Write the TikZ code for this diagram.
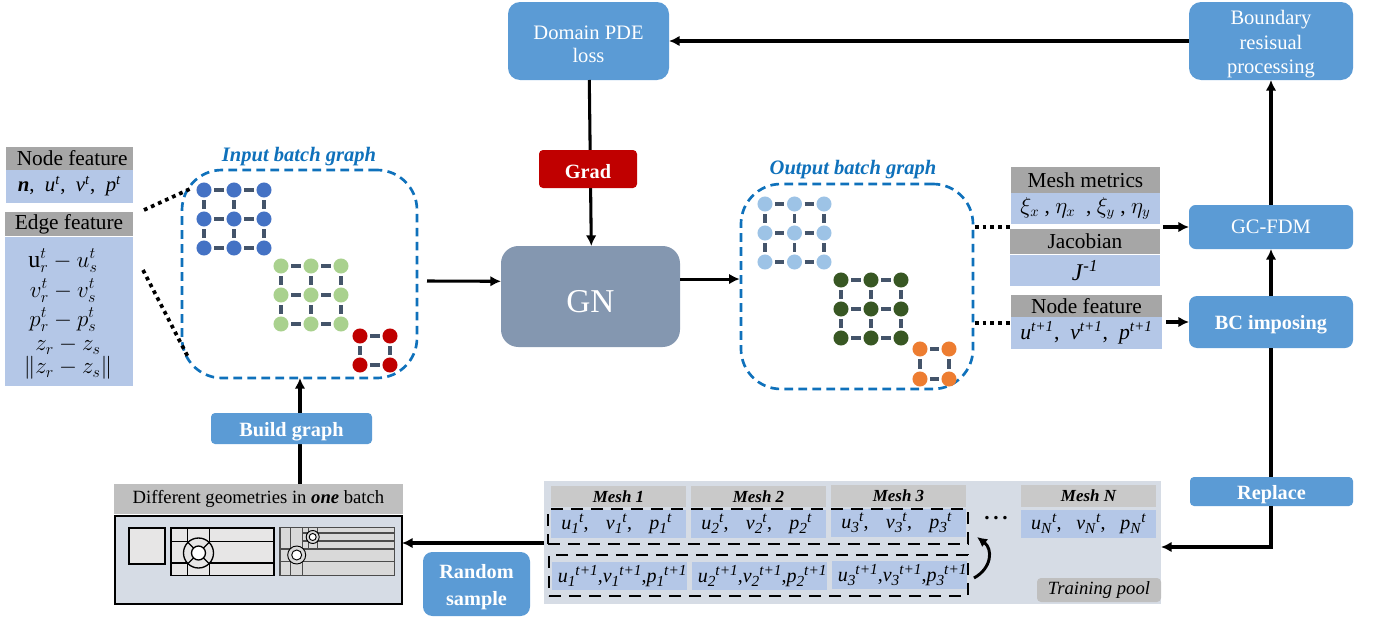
\documentclass[tikz,border=0pt]{standalone}
\usepackage{fontspec}
\usepackage{amsmath}
\setmainfont{Liberation Serif}
\usetikzlibrary{arrows.meta}
\definecolor{bluebox}{HTML}{5B9BD5}
\definecolor{gnfill}{HTML}{8497B0}
\definecolor{redbox}{HTML}{C00000}
\definecolor{graybar}{HTML}{A6A6A6}
\definecolor{lightbar}{HTML}{BFBFBF}
\definecolor{meshbar}{HTML}{C9C9C9}
\definecolor{cellblue}{HTML}{B4C7E7}
\definecolor{panel}{HTML}{D6DCE5}
\definecolor{edgeslate}{HTML}{44546A}
\definecolor{dashblue}{HTML}{0F71BB}
\definecolor{geo}{HTML}{E7E6E6}
\definecolor{geob}{HTML}{D9D9D9}
\definecolor{dotblue}{HTML}{4472C4}
\definecolor{dotgreen}{HTML}{A9D18E}
\definecolor{dotlight}{HTML}{9DC3E6}
\definecolor{dotdark}{HTML}{385723}
\definecolor{dotorange}{HTML}{ED7D31}
\newcommand\fsz[1]{\fontsize{#1}{#1}\selectfont}
\newcommand\dn{\rule{0pt}{14.7pt}}
\newcommand\supit[2]{\textit{#1}\textsuperscript{\textit{#2}}}
\newcommand\subsup[3]{\textit{#1}\raisebox{-3pt}{\fsz{11.5}\textit{#2}}\raisebox{5.5pt}{\fsz{11.5}\textit{#3}}}
\newcommand\Bx[7]{%
  \pgfmathsetmacro\bxw{(#5-#3)*0.75}\pgfmathsetmacro\bxh{(#6-#4)*0.75}%
  \node[#2,minimum width=\bxw pt,minimum height=\bxh pt] (#1) at ({(#3+#5)/2},{(#4+#6)/2}) {#7};}
\newcommand\GThree[6]{%
  \foreach \i in {0,1,2}{\foreach \j in {0,1,2}{
    \node[gdot,fill=#2] (#1-\i-\j) at ({#3+\i*#5},{#4+\j*#6}) {};}}
  \foreach \i in {0,1,2}{\foreach \j/\k in {0/1,1/2}{
    \draw[gedge] (#1-\i-\j) -- (#1-\i-\k);
    \draw[gedge] (#1-\j-\i) -- (#1-\k-\i);}}}
\newcommand\GTwo[6]{%
  \foreach \i in {0,1}{\foreach \j in {0,1}{
    \node[gdot,fill=#2] (#1-\i-\j) at ({#3+\i*#5},{#4+\j*#6}) {};}}
  \foreach \i in {0,1}{
    \draw[gedge] (#1-\i-0) -- (#1-\i-1);
    \draw[gedge] (#1-0-\i) -- (#1-1-\i);}}
\tikzset{
  base/.style={inner sep=0pt,outer sep=0pt,align=center},
  blockbox/.style={base,fill=bluebox,rounded corners=9pt,text=white,font=\fsz{15.4}},
  boldbox/.style={base,fill=bluebox,rounded corners=3pt,text=white,font=\fsz{15.2}\bfseries},
  headbar/.style={base,fill=graybar,text=black,font=\fsz{16}},
  cell/.style={base,fill=cellblue,text=black,font=\fsz{15.6}},
  meshhead/.style={base,fill=meshbar,font=\fsz{12.7}\bfseries\itshape},
  meshcell/.style={base,fill=cellblue,font=\fsz{15}},
  gdot/.style={circle,draw=none,minimum size=11.3pt,inner sep=0pt,outer sep=2pt},
  gedge/.style={draw=edgeslate,line width=2.5pt},
  arr/.style={draw=black,line width=2.3pt,-{Latex[length=8pt,width=8pt]}},
  plainline/.style={draw=black,line width=2.3pt},
  dots/.style={draw=black,line width=2.8pt,dash pattern=on 2.8pt off 3pt},
  bluedash/.style={base,draw=dashblue,line width=2pt,rounded corners=30pt,dash pattern=on 6.5pt off 4pt},
  blackdash/.style={base,draw=black,line width=2.2pt,dash pattern=on 9pt off 6pt},
  title/.style={text=dashblue,font=\fsz{15.4}\bfseries\itshape,inner sep=0pt},
  math/.style={inner sep=0pt,font=\fsz{18}},
  geoA/.style={draw=black,line width=1pt,fill=geo},
  geoL/.style={draw=black,line width=1pt},
  geoB/.style={draw=black!70,line width=.8pt,fill=geob},
  geoM/.style={draw=black!70,line width=.8pt},
}
\begin{document}
\begin{tikzpicture}[x=0.75pt,y=-0.75pt]
\useasboundingbox (0,0) rectangle (1379,621);

% ---- left feature tables
\Bx{nfh}{headbar}{6}{147}{133}{170}{\hspace*{4pt}Node feature}
\Bx{nfc}{cell}{6}{170}{133}{203}{\textit{\textbf{n}}, \ \supit{u}{t}, \ \supit{v}{t}, \ \supit{p}{t}}
\Bx{efh}{headbar}{5}{212}{133}{236}{Edge feature}
\Bx{efc}{cell}{5}{237}{133}{386}{}
\node[math] (e1) at (63,261) {$\mathrm{u}_r^t-u_s^t$};
\node[math] (e2) at (63,291) {$v_r^t-v_s^t$};
\node[math] (e3) at (63,320) {$p_r^t-p_s^t$};
\node[math] (e4) at (68,346) {$z_r-z_s$};
\node[math] (e5) at (68,368) {$\|z_r-z_s\|$};

% ---- input graph
\Bx{ib}{bluedash}{182}{170}{417}{378}{}
\node[title] (ibt) at (299,157) {Input batch graph};
\GThree{a}{dotblue}{204}{190}{30}{29}
\GThree{b}{dotgreen}{281}{266}{30}{29}
\GTwo{c}{redbox}{360}{336}{30}{29}
\coordinate (d1a) at (144,210);
\coordinate (d1b) at (192,188);
\coordinate (d2a) at (143,270);
\coordinate (d2b) at (188,357);
\draw[dots] (d1a) -- (d1b);
\draw[dots] (d2a) -- (d2b);

% ---- output graph
\Bx{ob}{bluedash}{741}{184}{973}{389}{}
\node[title] (obt) at (853,170) {Output batch graph};
\GThree{d}{dotlight}{765}{204}{29.5}{29}
\GThree{e}{dotdark}{841}{280}{30}{29}
\GTwo{f}{dotorange}{920}{349}{29}{30}

% ---- right tables
\Bx{mmh}{headbar}{1011}{167}{1160}{193}{Mesh metrics}
\Bx{mmc}{cell}{1011}{193}{1160}{224}{\fsz{16}$\xi_x$ , $\eta_x$ \ , $\xi_y$ , $\eta_y$}
\Bx{jah}{headbar}{1010}{229}{1160}{254}{Jacobian}
\Bx{jac}{cell,font=\fsz{18}}{1010}{255}{1160}{286}{\supit{J}{-1}}
\Bx{nrh}{headbar}{1011}{295}{1162}{317}{Node feature}
\Bx{nrc}{cell,font=\fsz{16.3}}{1011}{317}{1162}{349}{\supit{u}{t+1}, \ \supit{v}{t+1}, \ \supit{p}{t+1}}
\coordinate (o1) at (975,227);
\coordinate (o2) at (1010,227);
\coordinate (o3) at (975,323);
\coordinate (o4) at (1011,323);
\draw[dots] (o1) -- (o2);
\draw[dots] (o3) -- (o4);

% ---- main blocks
\Bx{dom}{blockbox}{508}{2}{669}{80}{\dn Domain PDE\\[2pt]loss}
\Bx{bnd}{blockbox}{1189}{2}{1353}{80}{\rule{0pt}{16pt}Boundary\\[3pt]resisual\\[3pt]processing}
\Bx{gn}{blockbox,rounded corners=13pt,fill=gnfill,font=\fsz{25}}{501}{246}{680}{347}{\rule{0pt}{24pt}GN}
\Bx{gcf}{blockbox,rounded corners=5pt}{1189}{205}{1353}{249}{GC-FDM}
\Bx{bci}{boldbox,rounded corners=6pt}{1189}{296}{1353}{348}{\dn BC imposing}
\Bx{rep}{boldbox}{1190}{477}{1353}{506}{\dn Replace}
\Bx{rnd}{boldbox,rounded corners=7pt}{423}{552}{530}{616}{\dn Random\\[5pt]sample}

\draw[arr] (bnd.west) -- (dom.east);
\draw[arr] ([xshift=0.6pt]dom.south) -- ([xshift=0.6pt]gn.north);
\Bx{grd}{boldbox,fill=redbox}{539}{150}{637}{188}{\dn Grad}
\draw[arr] ([xshift=7.5pt,yshift=-5.25pt]ib.east) -- ([yshift=11.4pt]gn.west);
\draw[arr] ([yshift=13.1pt]gn.east) -- ([xshift=-1pt,yshift=5.6pt]ob.west);
\draw[arr] ([xshift=2.2pt]jah.east |- gcf.west) -- (gcf.west);
\draw[arr] ([xshift=3pt]nrc.east |- bci.west) -- (bci.west);
\draw[arr] (bci.north) -- (gcf.south);
\draw[arr] (gcf.north) -- (bnd.south);
\draw[plainline] (bci.south |- rep.north) -- (bci.south);

% ---- geometries
\Bx{gh}{base,fill=lightbar,font=\fsz{14}}{114}{484}{403}{514}{Different geometries in \textit{\textbf{one}} batch}
\Bx{gb}{base,fill=panel,draw=black,line width=2.2pt}{115}{516}{402}{604}{}
\draw[arr] ([xshift=31.1pt]gh.north) -- ([xshift=31.1pt]gh.north |- ib.south);
\Bx{bld}{boldbox}{211}{413}{372}{444}{\dn Build graph}
\draw[geoA] (129,528) rectangle (165,564);
\draw[geoA] (171,528) rectangle (274,575.5);
\draw[geoL] (187.7,528) -- (187.7,575.5) (209.7,528) -- (209.7,575.5)
  (171,541.5) -- (274,541.5) (171,563) -- (274,563);
\fill[geo] (198.5,553) circle (15);
\draw[geoL] (198.5,553) circle (15);
\fill[white] (198.5,553) circle (7);
\draw[geoL] (198.5,553) circle (7);
\foreach \a in {45,135,225,315}{\draw[geoL] (198.5,553) ++(\a:7) -- ++(\a:8);}

\draw[geoB] (280,527.5) rectangle (394.5,575.5);
\draw[geoM] (290.3,527.5) -- (290.3,575.5) (302.7,527.5) -- (302.7,575.5)
  (280,549) -- (394.5,549) (280,561.7) -- (394.5,561.7)
  (308.3,527.5) -- (308.3,549) (317.7,527.5) -- (317.7,549)
  (302.7,533) -- (394.5,533) (302.7,541) -- (394.5,541);
\fill[geob] (312.7,537) circle (6.5);
\draw[geoL,line width=.7pt] (312.7,537) circle (6.5);
\fill[white] (312.7,537) circle (3.5);
\draw[geoL,line width=.7pt] (312.7,537) circle (3.5);
\fill[geob] (296.7,555) circle (9);
\draw[geoL,line width=.7pt] (296.7,555) circle (9);
\fill[white] (296.7,555) circle (5);
\draw[geoL,line width=.7pt] (296.7,555) circle (5);

% ---- training pool
\Bx{pool}{base,fill=panel}{544}{481}{1161}{604}{}
\Bx{m1}{meshhead}{551}{486}{686}{507}{Mesh 1}
\Bx{m2}{meshhead}{691}{486}{826}{507}{Mesh 2}
\Bx{m3}{meshhead}{831}{485}{966}{507}{Mesh 3}
\Bx{mN}{meshhead}{1021}{485}{1156}{507}{Mesh N}
\Bx{c1}{meshcell}{551}{510}{686}{538}{\hspace*{-3pt}\subsup{u}{1}{t},\hspace{13pt}\subsup{v}{1}{t},\hspace{13pt}\subsup{p}{1}{t}}
\Bx{c2}{meshcell}{691}{510}{826}{538}{\hspace*{-3pt}\subsup{u}{2}{t},\hspace{13pt}\subsup{v}{2}{t},\hspace{13pt}\subsup{p}{2}{t}}
\Bx{c3}{meshcell}{831}{509}{966}{537}{\hspace*{-3pt}\subsup{u}{3}{t},\hspace{13pt}\subsup{v}{3}{t},\hspace{13pt}\subsup{p}{3}{t}}
\Bx{cN}{meshcell}{1021}{510}{1156}{538}{\subsup{u}{N}{t},\hspace{11pt}\subsup{v}{N}{t},\hspace{11pt}\subsup{p}{N}{t}}
\Bx{d1}{meshcell}{552}{562}{687}{590}{\hspace*{4pt}\subsup{u}{1}{t+1},\subsup{v}{1}{t+1},\subsup{p}{1}{t+1}}
\Bx{d2}{meshcell}{692}{562}{827}{590}{\hspace*{4pt}\subsup{u}{2}{t+1},\subsup{v}{2}{t+1},\subsup{p}{2}{t+1}}
\Bx{d3}{meshcell}{832}{561}{967}{589}{\hspace*{4pt}\subsup{u}{3}{t+1},\subsup{v}{3}{t+1},\subsup{p}{3}{t+1}}
\Bx{db1}{blackdash}{548}{509}{968}{544}{}
\Bx{db2}{blackdash}{549}{555}{968}{596}{}
\Bx{tp}{base,fill=lightbar,rounded corners=3pt,font=\fsz{14}\itshape}{1037}{578}{1161}{602}{Training pool}
\node[inner sep=0pt,anchor=base,font=\fsz{16}\bfseries] (ell) at (996,519.5) {.\kern2.7pt.\kern2.7pt.};
\coordinate (ca) at (974,578);
\coordinate (cb) at (977,537);
\draw[draw=black,line width=2.2pt,-{Latex[length=7.5pt,width=7.5pt]}] (ca) .. controls (992,568) and (993,549) .. (cb);
\draw[arr] (pool.west |- 0,543) -- (gb.east |- 0,543);
\draw[arr] (bci.south |- rep.south) |- (pool.east |- 0,547);
\end{tikzpicture}
\end{document}
